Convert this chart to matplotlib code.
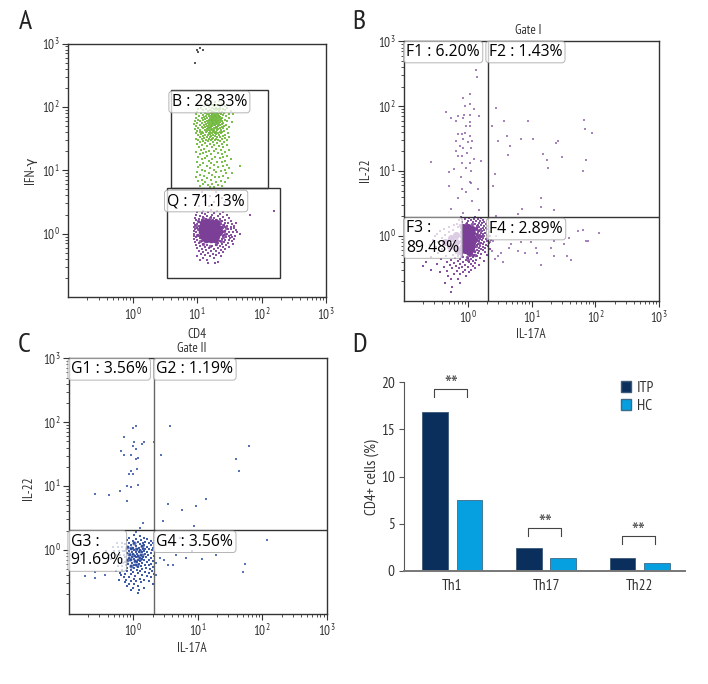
import matplotlib
matplotlib.use("Agg")
import matplotlib.pyplot as plt
import numpy as np
from matplotlib import font_manager as fm
from matplotlib.patches import Rectangle, Patch
from matplotlib.ticker import NullFormatter

W, H = 708, 684
installed = {f.name for f in fm.fontManager.ttflist}
narrow = next((n for n in ["PT Sans Narrow", "Roboto Condensed", "Archivo Narrow", "Liberation Sans"] if n in installed), "DejaVu Sans")
plt.rcParams["font.family"] = [narrow, "DejaVu Sans"]
plt.rcParams["mathtext.fontset"] = "custom"
plt.rcParams["mathtext.rm"] = narrow
plt.rcParams["mathtext.default"] = "rm"

# all flow values are log10 of the axis value: (log y, [log x, ...])
a_green = [
    (2.09, [1.21, 1.34]), (2.07, [1.28]), (2.05, [1.16, 1.39]), (2.03, [1.24, 1.31]), (2.015, [1.11, 1.27, 1.43]),
    (2.0, [1.19, 1.35]), (1.985, [1.06, 1.23, 1.29, 1.47]), (1.97, [1.14, 1.32, 1.4]), (1.96, [1.02, 1.26, 1.36]),
    (1.945, [1.09, 1.2, 1.3, 1.44]), (1.935, [1.17, 1.24, 1.34, 1.52]), (1.925, [1.0, 1.27, 1.38]),
    (1.91, [1.12, 1.21, 1.31, 1.42]), (1.9, [1.06, 1.25, 1.29, 1.35]), (1.89, [1.16, 1.23, 1.33, 1.49]),
    (1.88, [0.99, 1.19, 1.27, 1.37, 1.56]), (1.87, [1.09, 1.24, 1.3, 1.41]), (1.86, [1.14, 1.21, 1.28, 1.34]),
    (1.85, [1.03, 1.18, 1.26, 1.32, 1.45]), (1.84, [1.11, 1.23, 1.29, 1.36]), (1.83, [0.98, 1.2, 1.25, 1.31, 1.39]),
    (1.82, [1.07, 1.16, 1.27, 1.34, 1.5]), (1.81, [1.13, 1.22, 1.29, 1.37]), (1.80, [1.01, 1.19, 1.25, 1.32, 1.43]),
    (1.79, [1.09, 1.24, 1.28, 1.35]), (1.78, [0.97, 1.15, 1.21, 1.3, 1.38]), (1.77, [1.05, 1.18, 1.26, 1.33, 1.47]),
    (1.76, [1.12, 1.23, 1.29, 1.36, 1.54]), (1.75, [1.0, 1.17, 1.25, 1.31, 1.41]), (1.74, [1.08, 1.2, 1.27, 1.34]),
    (1.73, [0.96, 1.14, 1.23, 1.3, 1.39]), (1.72, [1.04, 1.18, 1.26, 1.32, 1.45]), (1.71, [1.11, 1.21, 1.28, 1.36]),
    (1.70, [0.99, 1.16, 1.24, 1.33, 1.42]), (1.69, [1.07, 1.19, 1.29, 1.38]), (1.68, [1.13, 1.22, 1.31, 1.5]),
    (1.67, [1.02, 1.17, 1.26, 1.35]), (1.66, [1.09, 1.2, 1.29, 1.4]), (1.65, [0.97, 1.15, 1.24, 1.33, 1.46]),
    (1.64, [1.05, 1.19, 1.27, 1.37]), (1.63, [1.12, 1.22, 1.31]), (1.62, [1.0, 1.16, 1.25, 1.42]),
    (1.61, [1.08, 1.2, 1.29, 1.35]), (1.60, [1.04, 1.14, 1.26, 1.39]), (1.59, [1.18, 1.23, 1.33, 1.48]),
    (1.58, [0.98, 1.1, 1.28, 1.37]), (1.57, [1.06, 1.2, 1.3]), (1.56, [1.13, 1.25, 1.43]), (1.55, [1.02, 1.17, 1.34]),
    (1.54, [1.09, 1.22, 1.28, 1.4]), (1.53, [1.15, 1.31, 1.5]), (1.52, [1.04, 1.2, 1.36]), (1.51, [1.11, 1.25, 1.44]),
    (1.50, [0.99, 1.18, 1.3]), (1.49, [1.07, 1.23, 1.38]), (1.48, [1.14, 1.33, 1.47]), (1.47, [1.01, 1.21, 1.28]),
    (1.455, [1.09, 1.17, 1.36]), (1.44, [1.05, 1.25, 1.42]), (1.425, [1.13, 1.31]), (1.41, [1.0, 1.2, 1.39]),
    (1.395, [1.08, 1.27, 1.46]), (1.38, [1.16, 1.34]), (1.36, [1.03, 1.23, 1.41]), (1.34, [1.11, 1.29]),
    (1.325, [1.06, 1.37, 1.49]), (1.31, [1.19, 1.26]), (1.29, [0.98, 1.14, 1.43]), (1.27, [1.09, 1.32]),
    (1.25, [1.04, 1.22, 1.38]), (1.23, [1.16, 1.47]), (1.21, [1.01, 1.28, 1.41]), (1.19, [1.12, 1.35]),
    (1.17, [1.07, 1.24, 1.52]), (1.15, [1.18, 1.44]), (1.13, [1.0, 1.31, 1.38]), (1.11, [1.1, 1.21]),
    (1.09, [1.05, 1.27, 1.47]), (1.07, [1.15, 1.4, 1.67]), (1.05, [1.02, 1.33]), (1.03, [1.2, 1.5]),
    (1.01, [1.08, 1.26, 1.43]), (0.99, [1.13, 1.37]), (0.97, [1.0, 1.3]), (0.95, [1.18, 1.45, 1.55]),
    (0.93, [1.05, 1.23]), (0.91, [1.11, 1.4]), (0.89, [0.98, 1.28, 1.34]), (0.87, [1.16, 1.48]),
    (0.85, [1.07, 1.21]), (0.83, [1.02, 1.37]), (0.81, [1.13, 1.29, 1.43]), (0.79, [1.09, 1.24]),
    (0.77, [1.17, 1.33]), (0.75, [1.04, 1.39]), (0.73, [1.2, 1.27]),
]
a_purple = [
    (0.66, [1.08, 1.3]), (0.6, [1.0, 1.2]), (0.56, [1.38]), (0.5, [1.12, 1.26, 1.44]), (0.44, [1.03, 1.18, 1.33]),
    (0.38, [1.22]), (0.36, [1.1, 1.31, 2.19]), (0.34, [1.0, 1.17, 1.41]), (0.32, [1.07, 1.27]), (0.305, [1.13, 1.36]),
    (0.29, [0.99, 1.23, 1.47, 1.82]), (0.275, [1.05, 1.16, 1.32]), (0.26, [1.1, 1.21, 1.4]), (0.25, [0.97, 1.27, 1.5]),
    (0.235, [1.03, 1.14, 1.35]), (0.22, [1.19, 1.3, 1.44]), (0.21, [0.99, 1.08, 1.25]), (0.195, [1.12, 1.38, 1.53]),
    (0.185, [1.03, 1.22, 1.33]), (0.175, [0.96, 1.16, 1.43, 1.61]), (0.16, [1.06, 1.28, 1.48]), (0.15, [1.0, 1.37, 1.55]),
    (0.135, [0.97, 1.09, 1.42]), (0.125, [1.03, 1.46, 1.58]), (0.11, [1.38, 1.52]), (0.1, [0.95, 1.05, 1.44]),
    (0.085, [1.0, 1.41, 1.57]), (0.07, [0.97, 1.48, 1.53]), (0.06, [1.03, 1.38, 1.6]), (0.045, [0.95, 1.44]),
    (0.03, [0.99, 1.5, 1.56]), (0.02, [1.04, 1.4, 1.62]), (0.0, [0.96, 1.46, 1.67]), (-0.015, [1.01, 1.42, 1.53]),
    (-0.03, [0.95, 1.49, 1.59]), (-0.045, [1.03, 1.4]), (-0.06, [0.98, 1.45, 1.55]), (-0.075, [1.05, 1.51]),
    (-0.09, [0.96, 1.38, 1.58]), (-0.105, [1.0, 1.44, 1.49]), (-0.12, [1.07, 1.36, 1.54]), (-0.135, [0.97, 1.42]),
    (-0.15, [1.03, 1.33, 1.48]), (-0.165, [1.1, 1.39, 1.56]), (-0.18, [0.98, 1.16, 1.3, 1.45]), (-0.195, [1.05, 1.23, 1.36]),
    (-0.21, [1.12, 1.41, 1.5]), (-0.225, [1.0, 1.19, 1.32]), (-0.24, [1.07, 1.27, 1.44]), (-0.255, [1.14, 1.37]),
    (-0.27, [1.03, 1.22, 1.3]), (-0.285, [1.1, 1.4]), (-0.3, [1.17, 1.34]), (-0.32, [1.06, 1.25]), (-0.34, [1.13, 1.3]),
    (-0.36, [1.0, 1.2, 1.37]), (-0.39, [1.09, 1.27]), (-0.42, [1.15, 1.05]), (-0.44, [1.33]), (-0.47, [1.17, 1.28]),
]
a_core = [(1.09, 0.17), (1.16, 0.18), (1.23, 0.17), (1.3, 0.16), (1.07, 0.1), (1.14, 0.1), (1.2, 0.1), (1.27, 0.1), (1.33, 0.09),
          (1.08, 0.03), (1.15, 0.03), (1.22, 0.03), (1.29, 0.03), (1.34, 0.02), (1.09, -0.04), (1.16, -0.04), (1.23, -0.04),
          (1.3, -0.04), (1.14, -0.09), (1.22, -0.09), (1.28, -0.08)]
a_mid = [(0.98, 0.12), (1.0, -0.02), (1.02, 0.2), (1.04, -0.12), (1.4, 0.14), (1.42, 0.04), (1.4, -0.06), (1.37, -0.12),
         (1.1, 0.24), (1.2, 0.25), (1.3, 0.22), (1.1, -0.16), (1.2, -0.19), (1.3, -0.16), (1.36, 0.2), (1.02, 0.07),
         (1.45, 0.09), (1.44, -0.01)]
a_top = [(2.9, [1.0]), (2.93, [1.05]), (2.89, [1.09]), (2.86, [1.01]), (2.69, [0.97])]

b_upper = [
    (2.55, [0.13]), (2.45, [0.15]), (2.19, [0.04]), (2.12, [-0.07]), (2.04, [0.03]), (2.0, [-0.04]), (1.95, [0.09]),
    (1.91, [-0.34]), (1.87, [-0.06]), (1.86, [0.03]), (1.85, [-0.16, 0.17]), (1.81, [-0.27, -0.08]), (1.77, [-0.18]),
    (1.75, [0.04]), (1.7, [-0.03]), (1.69, [0.04]), (1.59, [-0.04]), (1.57, [-0.16, -0.09]), (1.54, [0.03]),
    (1.49, [-0.08]), (1.46, [-0.18, 0.06]), (1.44, [0.0]), (1.38, [-0.13]), (1.36, [-0.08, 0.05]), (1.31, [-0.18]),
    (1.27, [-0.01]), (1.23, [-0.15, -0.09]), (1.19, [0.09]), (1.15, [0.2]), (1.14, [-0.57]), (1.13, [-0.09, 0.03]),
    (1.05, [-0.03]), (1.03, [-0.21]), (1.0, [0.05]), (0.98, [-0.29]), (0.9, [-0.11]), (0.83, [0.03]), (0.82, [0.05]),
    (0.77, [-0.3]), (0.73, [-0.09, 0.16]), (0.67, [-0.03]), (0.59, [-0.15]), (0.54, [0.06]), (0.41, [-0.26]),
    (0.4, [0.18]), (0.36, [-0.08]),
    (1.97, [0.44]), (1.78, [1.82]), (1.77, [0.57, 0.95]), (1.69, [0.38]), (1.64, [1.84]), (1.58, [1.94]),
    (1.54, [0.61]), (1.49, [0.83, 1.02]), (1.46, [0.48, 1.42]), (1.43, [1.38]), (1.38, [0.66]), (1.26, [1.17]),
    (1.24, [0.63]), (1.21, [1.48]), (1.17, [1.24, 1.85]), (1.05, [1.26]), (1.0, [1.81]), (0.96, [0.42]),
    (0.77, [0.39]), (0.58, [1.14]), (0.44, [1.14]), (0.42, [0.85]), (0.4, [1.35]), (0.33, [0.78]), (0.31, [0.44]),
]
b_lower = [
    (0.09, [1.8]), (0.08, [1.73]), (0.04, [2.06]), (-0.01, [0.44]), (-0.03, [1.59]), (-0.08, [0.39, 1.35, 1.85, 1.89]),
    (-0.1, [0.34, 0.83, 0.99]), (-0.13, [0.68, 1.5]), (-0.18, [0.65, 1.07, 1.3]), (-0.23, [0.38]), (-0.24, [0.78]),
    (-0.26, [0.52, 1.08]), (-0.27, [0.89]), (-0.31, [0.47, 1.35, 1.56]), (-0.36, [0.42]), (-0.38, [1.61]),
    (-0.41, [0.55]), (-0.45, [1.15]),
]
b_cloud = [
    (0.29, [-0.1, 0.12]), (0.275, [0.02, 0.2]), (0.26, [-0.05, 0.09, 0.16]), (0.245, [-0.14, 0.05, 0.23]),
    (0.23, [0.01, 0.13, 0.19]), (0.215, [-0.09, 0.08, 0.26]), (0.2, [-0.02, 0.17, 0.22]), (0.185, [-0.17, 0.12, 0.29]),
    (0.17, [-0.22, 0.16, 0.21]), (0.155, [0.14, 0.25, 0.32]), (0.14, [-0.3, -0.16, 0.18]), (0.125, [0.15, 0.23, 0.28]),
    (0.11, [-0.37, 0.2, 0.3]), (0.095, [-0.24, 0.14, 0.26]), (0.08, [-0.44, 0.18, 0.22]), (0.065, [-0.3, 0.16, 0.33]),
    (0.05, [0.2, 0.27]), (0.035, [-0.48, 0.15, 0.24]), (0.02, [-0.36, 0.19, 0.3]), (0.005, [0.17, 0.22, 0.35]),
    (-0.01, [-0.52, 0.14, 0.26]), (-0.025, [0.2, 0.31]), (-0.04, [-0.4, 0.16, 0.24]), (-0.055, [0.19, 0.28]),
    (-0.07, [-0.55, 0.15, 0.22, 0.36]), (-0.085, [0.18, 0.3]), (-0.1, [-0.46, 0.13, 0.25]), (-0.115, [0.2, 0.33]),
    (-0.13, [0.16, 0.23]), (-0.145, [-0.6, 0.14, 0.28]), (-0.16, [0.19, 0.31]), (-0.175, [-0.5, 0.12, 0.24]),
    (-0.19, [0.17, 0.27]), (-0.205, [-0.4, 0.1, 0.2, 0.34]), (-0.22, [0.14, 0.23]), (-0.235, [-0.3, 0.08, 0.18]),
    (-0.25, [0.12, 0.27]), (-0.265, [-0.47, -0.18, 0.16]), (-0.28, [-0.1, 0.06, 0.21]), (-0.295, [-0.24, 0.1, 0.3]),
    (-0.31, [-0.34, -0.15, 0.04, 0.15]), (-0.325, [-0.58, -0.07, 0.08]), (-0.34, [-0.2, 0.01, 0.19]),
    (-0.355, [-0.42, -0.12, 0.05]), (-0.37, [-0.27, -0.03, 0.13]), (-0.385, [-0.16, 0.08, 0.25]),
    (-0.4, [-0.65, -0.33, -0.08, 0.02]), (-0.415, [-0.22, 0.11]), (-0.43, [-0.48, -0.13, 0.05]),
    (-0.445, [-0.28, -0.04, 0.17]), (-0.46, [-0.7, -0.18, 0.08]), (-0.48, [-0.38, -0.09, 0.01]),
    (-0.5, [-0.25, -0.14, 0.12]), (-0.52, [-0.58, -0.05, 0.05]), (-0.54, [-0.32, -0.17]), (-0.56, [-0.44, -0.08, 0.02]),
    (-0.59, [-0.22, -0.12]), (-0.62, [-0.31, -0.03]), (-0.66, [-0.27, -0.16]), (-0.72, [-0.36, -0.12]),
    (-0.79, [-0.25]), (-0.87, [-0.26]),
]
b_core = [(-0.07, 0.13), (0.0, 0.14), (0.06, 0.11), (-0.08, 0.06), (-0.01, 0.06), (0.07, 0.04), (-0.08, -0.01), (0.0, -0.02),
          (0.08, -0.04), (-0.08, -0.08), (0.0, -0.09), (0.07, -0.11), (-0.07, -0.15), (0.0, -0.16), (0.05, -0.19),
          (-0.04, -0.22), (0.02, -0.25), (-0.19, 0.02), (-0.27, -0.03), (-0.36, -0.09), (-0.19, -0.09), (-0.28, -0.15),
          (-0.19, -0.18), (-0.13, -0.23)]
b_mid = [(0.13, 0.12), (0.14, 0.03), (0.15, -0.06), (0.13, -0.15), (0.1, -0.24), (0.06, -0.3), (-0.02, -0.33), (-0.1, -0.3),
         (-0.12, 0.17), (-0.03, 0.19), (0.06, 0.18), (-0.16, -0.27), (0.17, 0.09), (0.18, -0.02), (0.17, -0.11), (0.12, -0.29),
         (0.0, -0.38)]

c_upper = [
    (1.94, [0.05, 0.57]), (1.91, [-0.01]), (1.76, [-0.15]), (1.69, [0.01, 0.16, 0.32]), (1.66, [0.14]), (1.63, [0.0, 1.8]),
    (1.58, [0.04]), (1.55, [-0.19]), (1.49, [-0.04, 0.43]), (1.48, [-0.15]), (1.44, [0.07]), (1.42, [0.04, 1.6]),
    (1.27, [0.06]), (1.23, [-0.03, 1.64]), (1.19, [-0.07, -0.01]), (1.02, [0.07]), (1.0, [-0.1]), (0.98, [-0.04]),
    (0.92, [-0.2]), (0.87, [-0.6]), (0.86, [-0.37]), (0.79, [1.13]), (0.76, [-0.09]), (0.72, [0.54]), (0.68, [0.98]),
    (0.62, [0.75]), (0.45, [0.46]), (0.42, [0.15]), (0.37, [0.95]), (0.34, [0.1]), (0.28, [0.05]),
]
c_lower = [
    (0.19, [0.73]), (0.16, [2.07]), (-0.02, [0.91]), (-0.08, [0.67, 1.29]), (-0.13, [0.42, 0.82]), (-0.14, [1.07]),
    (-0.16, [0.47]), (-0.2, [0.35]), (-0.22, [1.73]), (-0.23, [0.54]), (-0.24, [0.62]), (-0.35, [1.71]), (-0.4, [0.36]),
    (-0.41, [-0.75]), (-0.35, [-0.6]), (-0.44, [-0.6]), (-0.4, [-0.43]), (-0.33, [-0.27]),
]
c_cloud = [
    (0.23, [0.02]), (0.21, [0.1]), (0.19, [-0.06, 0.17]), (0.175, [0.04, 0.22]), (0.16, [-0.1, 0.12]), (0.145, [-0.01, 0.27]),
    (0.13, [0.07, 0.19]), (0.115, [-0.07, 0.15, 0.3]), (0.1, [0.02, 0.24]), (0.09, [-0.12, 0.1]), (0.075, [-0.03, 0.17, 0.28]),
    (0.06, [0.05, 0.13]), (0.05, [-0.08, 0.21]), (0.035, [0.0, 0.09, 0.31]), (0.02, [-0.11, 0.15, 0.25]),
    (0.01, [-0.04, 0.06, 0.19]), (-0.005, [0.02, 0.11, 0.29]), (-0.015, [-0.13, -0.07, 0.16]), (-0.03, [0.04, 0.22]),
    (-0.04, [-0.02, 0.09, 0.13]), (-0.055, [-0.1, 0.27]), (-0.065, [0.0, 0.06, 0.18]), (-0.08, [-0.05, 0.12, 0.23]),
    (-0.09, [0.03, 0.08, 0.32]), (-0.105, [-0.12, 0.15]), (-0.115, [-0.02, 0.05, 0.2]), (-0.13, [-0.07, 0.1, 0.28]),
    (-0.14, [0.01, 0.14]), (-0.155, [-0.1, 0.07, 0.24]), (-0.165, [-0.04, 0.17]), (-0.18, [0.03, 0.11, 0.3]),
    (-0.19, [-0.13, 0.06, 0.21]), (-0.205, [-0.02, 0.14]), (-0.215, [-0.08, 0.09, 0.27]), (-0.23, [0.01, 0.18]),
    (-0.245, [-0.11, 0.05, 0.24]), (-0.26, [-0.04, 0.12]), (-0.275, [0.08, 0.31]), (-0.29, [-0.09, 0.02, 0.2]),
    (-0.305, [0.14, 0.26]), (-0.32, [-0.17, -0.03, 0.06]), (-0.335, [-0.1, 0.11, 0.29]), (-0.35, [0.0, 0.18]),
    (-0.365, [-0.2, 0.07, 0.24]), (-0.38, [-0.12, -0.03, 0.32]), (-0.395, [-0.19, 0.13]), (-0.41, [0.03, 0.21]),
    (-0.43, [-0.15, -0.07, 0.28]), (-0.45, [0.01, 0.1]), (-0.47, [-0.22, -0.11, 0.17]), (-0.49, [-0.04, 0.05, 0.25]),
    (-0.51, [-0.13, 0.12]), (-0.53, [-0.06, 0.02, 0.3]), (-0.56, [-0.09, 0.08]), (-0.59, [0.0, 0.16]), (-0.63, [-0.04, 0.09]),
    (-0.68, [0.08]),
]
c_core = [(-0.03, 0.03), (0.04, 0.02), (0.1, -0.02), (-0.07, -0.06), (0.0, -0.08), (0.07, -0.1), (-0.05, -0.14), (0.03, -0.17),
          (0.11, -0.15), (0.13, 0.06), (-0.09, 0.05), (0.02, 0.1), (0.14, -0.08), (-0.09, -0.16), (0.06, -0.24), (-0.03, -0.25)]
c_haze = [
    (0.1, [-0.25, -0.18]), (0.04, [-0.32, -0.24, -0.17]), (-0.02, [-0.42, -0.3, -0.22, -0.16]),
    (-0.08, [-0.36, -0.27, -0.2, -0.15]), (-0.14, [-0.34, -0.25, -0.18]), (-0.2, [-0.3, -0.22, -0.16]), (-0.26, [-0.24, -0.17]),
]

groups = ["Th1", "Th17", "Th22"]
itp = [16.9, 2.37, 1.38]
hc = [7.47, 1.3, 0.85]
bracket_top = [19.26, 4.5, 3.65]
bracket_low = [18.48, 3.7, 2.83]
flow_ticks = [1, 10, 100, 1000]
flow_minor = [m * 10.0 ** e for e in (-1, 0, 1, 2) for m in range(2, 10)]
flow_labels = ["$10^{0}$", "$10^{1}$", "$10^{2}$", "$10^{3}$"]

DARK = "#333333"
PURPLE = "#7b3f98"
GREEN = "#6fb83a"
BLUE = "#2b4a9e"
NAVY = "#0a2f5c"
CYAN = "#069fe0"

fig = plt.figure(figsize=(W / 100, H / 100), dpi=100, facecolor="white")


def px_axes(l, t, r, b):
    return fig.add_axes([l / W, 1 - b / H, (r - l) / W, (b - t) / H])


def put(x, y, s, **kw):
    kw.setdefault("color", "#333333")
    kw.setdefault("ha", "center")
    kw.setdefault("va", "center")
    return fig.text(x / W, 1 - y / H, s, **kw)


def gate_label(x, y, s):
    put(x, y, s, ha="left", color="black", family=["Open Sans", "DejaVu Sans"], fontsize=11.3, linespacing=1.25,
        zorder=5, bbox=dict(boxstyle="round,pad=0.18,rounding_size=0.2", fc="white", ec="#9a9a9a", lw=0.7, alpha=0.74))


def flow_axes(l, t, r, b):
    ax = px_axes(l, t, r, b)
    ax.set_xscale("log")
    ax.set_yscale("log")
    ax.set_xlim(0.1, 1000)
    ax.set_ylim(0.1, 1000)
    ax.set_xticks(flow_ticks, flow_labels)
    ax.set_yticks(flow_ticks, flow_labels)
    ax.set_xticks(flow_minor, minor=True)
    ax.set_yticks(flow_minor, minor=True)
    ax.xaxis.set_minor_formatter(NullFormatter())
    ax.yaxis.set_minor_formatter(NullFormatter())
    ax.tick_params(which="major", length=4, width=0.8, color=DARK, labelsize=9.5, labelcolor="#333333", pad=2)
    ax.tick_params(axis="x", which="major", pad=3)
    ax.tick_params(which="minor", length=2, width=0.6, color=DARK)
    for sp in ax.spines.values():
        sp.set_color(DARK)
        sp.set_linewidth(1.0)
    return ax


def dots(ax, rows, color, s=0.9, alpha=0.9, z=2):
    xs = np.array([x for y, row in rows for x in row])
    ys = np.array([y for y, row in rows for x in row])
    ax.scatter(10.0 ** xs, 10.0 ** ys, s=s, c=color, marker="s", linewidths=0, alpha=alpha, zorder=z)


def blob(ax, pts, color, s, alpha=1.0):
    arr = np.array(pts)
    ax.scatter(10.0 ** arr[:, 0], 10.0 ** arr[:, 1], s=s, c=color, linewidths=0, alpha=alpha, zorder=2)


# A
ax_a = flow_axes(68, 43.5, 326, 297)
dots(ax_a, a_green, GREEN, s=1.2)
dots(ax_a, a_purple, PURPLE, s=1.1)
blob(ax_a, a_core, PURPLE, 30)
blob(ax_a, a_mid, PURPLE, 6, alpha=0.85)
dots(ax_a, a_top, "#444444", s=0.8)
for x0, x1, y0, y1 in [(0.6, 2.1, 0.717, 2.27), (0.53, 2.28, -0.696, 0.717)]:
    ax_a.add_patch(Rectangle((10 ** x0, 10 ** y0), 10 ** x1 - 10 ** x0, 10 ** y1 - 10 ** y0,
                             fill=False, ec=DARK, lw=1.0, zorder=3))
gate_label(171.7, 102, "B : 28.33%")
gate_label(167.3, 201, "Q : 71.13%")

# B
ax_b = flow_axes(404, 41.3, 659.3, 300.7)
dots(ax_b, b_upper, "#8a5aa6", s=0.9, alpha=0.75)
dots(ax_b, b_lower, "#8a5aa6", s=0.9, alpha=0.75)
dots(ax_b, b_cloud, PURPLE, s=1.2)
blob(ax_b, b_core, PURPLE, 26)
blob(ax_b, b_mid, PURPLE, 6, alpha=0.85)
ax_b.axvline(10 ** 0.3125, color=DARK, lw=1.0, zorder=3)
ax_b.axhline(10 ** 0.297, color=DARK, lw=1.0, zorder=3)
gate_label(406.3, 52, "F1 : 6.20%")
gate_label(488.7, 52, "F2 : 1.43%")
gate_label(406.3, 238, "F3 :\n89.48%")
gate_label(489.3, 229, "F4 : 2.89%")

# C
ax_c = flow_axes(68.7, 358.3, 326.7, 613.7)
dots(ax_c, c_upper, "#3a5aa8", s=0.8, alpha=0.85)
dots(ax_c, c_lower, "#3a5aa8", s=0.8, alpha=0.85)
dots(ax_c, c_cloud, BLUE, s=1.3)
blob(ax_c, c_core, BLUE, 9, alpha=0.75)
dots(ax_c, c_haze, BLUE, s=3.5, alpha=0.8)
ax_c.axvline(10 ** 0.325, color="#666666", lw=1.0, zorder=3)
ax_c.axhline(10 ** 0.316, color=DARK, lw=1.0, zorder=3)
gate_label(70.7, 369.3, "G1 : 3.56%")
gate_label(156.3, 369.3, "G2 : 1.19%")
gate_label(70.7, 551, "G3 :\n91.69%")
gate_label(156.3, 541.7, "G4 : 3.56%")

# D
ax_d = px_axes(404, 382.3, 685, 570.7)
pos = np.arange(len(groups))
off = 0.184
ax_d.bar(pos - off, itp, 0.274, color=NAVY, edgecolor="#3c5a78", linewidth=0.6)
ax_d.bar(pos + off, hc, 0.274, color=CYAN, edgecolor="#3c6a88", linewidth=0.6)
for p, top, low in zip(pos, bracket_top, bracket_low):
    ax_d.plot([p - 0.19, p - 0.19, p + 0.162, p + 0.162], [low, top, top, low], color="#444444", lw=0.8, clip_on=False)
    ax_d.text(p - 0.014, top + 0.2, "**", ha="center", va="center", fontsize=17, color="#555555", clip_on=False)
ax_d.set_xlim(-0.514, 2.482)
ax_d.set_ylim(0, 20)
ax_d.set_yticks([0, 5, 10, 15, 20])
ax_d.set_xticks(pos, groups)
ax_d.tick_params(axis="x", length=0, pad=6, labelsize=11, labelcolor="#333333")
ax_d.tick_params(axis="y", length=3.6, width=0.8, color="#555555", labelsize=11, labelcolor="#333333", pad=3)
ax_d.spines[["top", "right"]].set_visible(False)
ax_d.spines["left"].set_color("#555555")
ax_d.spines["bottom"].set_color("#777777")
ax_d.spines["bottom"].set_linewidth(1.4)
put(372, 477, "CD4+ cells (%)", fontsize=11, rotation=90)
ax_d.legend(handles=[Patch(fc=NAVY, ec="#3c5a78", label="ITP"), Patch(fc=CYAN, ec="#3c6a88", label="HC")],
            loc="upper left", bbox_to_anchor=(0.772, 1.007), frameon=False, fontsize=11, handlelength=0.68,
            handleheight=0.68, handletextpad=0.35, labelspacing=0.25, borderpad=0, borderaxespad=0, labelcolor="#333333")

# letters and axis titles
for s, x, y in [("A", 25, 22), ("B", 359, 22), ("C", 24, 345), ("D", 360, 345)]:
    put(x, y, s, fontsize=20, color="#222222")
put(197, 334, "CD4", fontsize=9.5)
put(531, 335, "IL-17A", fontsize=9.5)
put(192, 649, "IL-17A", fontsize=9.5)
put(528, 31, "Gate I", fontsize=9.5)
put(192, 349, "Gate II", fontsize=9.5)
put(30, 170, "IFN-γ", fontsize=9.5, rotation=90)
put(365, 170, "IL-22", fontsize=9.5, rotation=90)
put(29, 488, "IL-22", fontsize=9.5, rotation=90)

fig.savefig("out.png", dpi=100)
